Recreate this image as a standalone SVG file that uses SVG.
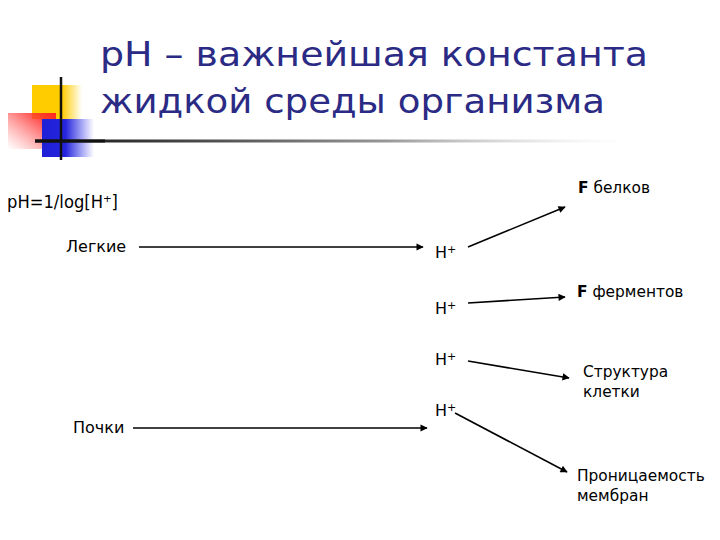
<svg xmlns="http://www.w3.org/2000/svg" width="720" height="540" viewBox="0 0 720 540">
<style>
.t{font-family:"DejaVu Sans","Liberation Sans",sans-serif;fill:#000;font-size:16px}
.r{font-size:15.4px}
.title{font-family:"DejaVu Sans","Liberation Sans",sans-serif;fill:#2b2b85;font-size:33px}
.c{stroke:#000;stroke-width:1.6;fill:none;marker-end:url(#ah)}
</style>
<defs>
<marker id="ah" viewBox="0 0 10 10" refX="9" refY="5" markerWidth="5" markerHeight="4.5" orient="auto" markerUnits="strokeWidth">
<path d="M0,0 L10,5 L0,10 z" fill="#000"/>
</marker>
<linearGradient id="gy" x1="0" y1="0" x2="1" y2="0">
<stop offset="0" stop-color="#FFCC00"/>
<stop offset="0.6" stop-color="#FFCC00"/>
<stop offset="1" stop-color="#FFCC00" stop-opacity="0"/>
</linearGradient>
<linearGradient id="gr" x1="1" y1="0" x2="0" y2="1">
<stop offset="0" stop-color="#FF2222"/>
<stop offset="0.3" stop-color="#FF3333" stop-opacity="0.8"/>
<stop offset="1" stop-color="#FF6666" stop-opacity="0"/>
</linearGradient>
<linearGradient id="gb" x1="0" y1="0" x2="1" y2="0">
<stop offset="0" stop-color="#1f1fd6"/>
<stop offset="0.45" stop-color="#2525dd"/>
<stop offset="1" stop-color="#3333ee" stop-opacity="0"/>
</linearGradient>
<linearGradient id="gl" x1="0" y1="0" x2="1" y2="0">
<stop offset="0" stop-color="#111"/>
<stop offset="0.25" stop-color="#444"/>
<stop offset="0.6" stop-color="#999"/>
<stop offset="1" stop-color="#ddd" stop-opacity="0"/>
</linearGradient>
</defs>
<rect width="720" height="540" fill="#fff"/>
<g id="decoration">
<rect x="32" y="85" width="50" height="34" fill="url(#gy)"/>
<rect x="8" y="113" width="48" height="36" fill="url(#gr)"/>
<rect x="42" y="119" width="52" height="38" fill="url(#gb)"/>
<rect x="35" y="139.5" width="590" height="3" fill="url(#gl)"/>
<rect x="35" y="139.5" width="70" height="3" fill="#111"/>
<line x1="61" y1="77" x2="61" y2="160" stroke="#111" stroke-width="2.5"/>
</g>
<g id="title">
<text class="title" x="100" y="66" textLength="548" lengthAdjust="spacingAndGlyphs">pH – важнейшая константа</text>
<text class="title" x="100" y="113" textLength="505" lengthAdjust="spacingAndGlyphs">жидкой среды организма</text>
</g>
<g id="formula"><text class="t" x="7" y="208" style="font-size:17px" textLength="111" lengthAdjust="spacingAndGlyphs">pH=1/log[H⁺]</text></g>
<g id="lungs"><text class="t" x="66" y="252">Легкие</text></g>
<g id="kidneys"><text class="t" x="73" y="433">Почки</text></g>
<g id="h1"><text class="t" x="435" y="258">H<tspan font-size="11" dy="-5">+</tspan></text></g>
<g id="h2"><text class="t" x="435" y="314">H<tspan font-size="11" dy="-5">+</tspan></text></g>
<g id="h3"><text class="t" x="435" y="365">H<tspan font-size="11" dy="-5">+</tspan></text></g>
<g id="h4"><text class="t" x="435" y="416">H<tspan font-size="11" dy="-5">+</tspan></text></g>
<g id="proteins"><text class="t r" x="578" y="193"><tspan font-weight="bold">F</tspan> белков</text></g>
<g id="enzymes"><text class="t r" x="577" y="297"><tspan font-weight="bold">F</tspan> ферментов</text></g>
<g id="structure"><text class="t r" x="583" y="377">Структура</text><text class="t r" x="583" y="397">клетки</text></g>
<g id="permeability"><text class="t r" x="577" y="481">Проницаемость</text><text class="t r" x="577" y="501">мембран</text></g>
<g id="connectors">
<line class="c" x1="139" y1="247" x2="423" y2="247"/>
<line class="c" x1="133" y1="428" x2="427" y2="428"/>
<line class="c" x1="468" y1="247" x2="565" y2="207"/>
<line class="c" x1="468" y1="303" x2="565" y2="297"/>
<line class="c" x1="468" y1="361" x2="569" y2="378"/>
<line class="c" x1="455" y1="413" x2="567" y2="472"/>
</g>
</svg>
